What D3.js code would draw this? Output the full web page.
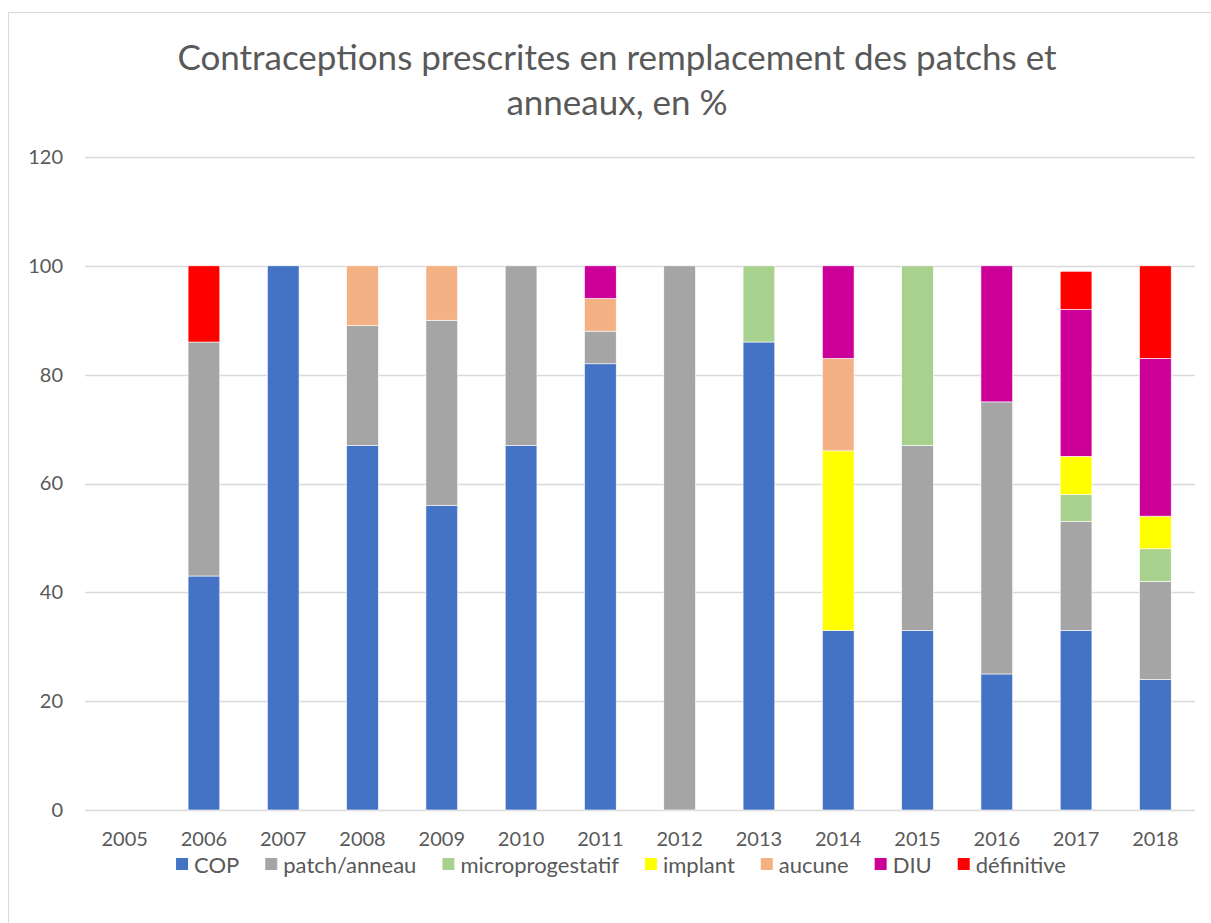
<!DOCTYPE html>
<html>
<head>
<meta charset="utf-8">
<script src="https://cdn.jsdelivr.net/npm/d3@7"></script>
<style>
  body { margin: 0; background: #fff; }
  text { font-family: Lato, "Open Sans", sans-serif; fill: #595959; }
</style>
</head>
<body>
<svg id="chart" width="1211" height="923"></svg>
<script>
var years = ["2005", "2006", "2007", "2008", "2009", "2010", "2011", "2012", "2013", "2014", "2015", "2016", "2017", "2018"];
var seriesNames = ["COP", "patch/anneau", "microprogestatif", "implant", "aucune", "DIU", "définitive"];
var seriesColors = ["#4472c4", "#a5a5a5", "#a9d18e", "#ffff00", "#f4b183", "#cc0099", "#ff0000"];

var cop     = [0, 43, 100, 67, 56, 67, 82, 0, 86, 33, 33, 25, 33, 24];
var patch   = [0, 43, 0, 22, 34, 33, 6, 100, 0, 0, 34, 50, 20, 18];
var micro   = [0, 0, 0, 0, 0, 0, 0, 0, 14, 0, 33, 0, 5, 6];
var implant = [0, 0, 0, 0, 0, 0, 0, 0, 0, 33, 0, 0, 7, 6];
var aucune  = [0, 0, 0, 11, 10, 0, 6, 0, 0, 17, 0, 0, 0, 0];
var diu     = [0, 0, 0, 0, 0, 0, 6, 0, 0, 17, 0, 25, 27, 29];
var definitive = [0, 14, 0, 0, 0, 0, 0, 0, 0, 0, 0, 0, 7, 17];
var yTicks = [0, 20, 40, 60, 80, 100, 120];

var width = 1211, height = 923;
var margin = { left: 85, right: 16, top: 157, bottom: 113 };

var svg = d3.select("#chart");

// chart frame
svg.append("rect")
  .attr("x", 8.5).attr("y", 12.5)
  .attr("width", 1215).attr("height", 930)
  .attr("fill", "none").attr("stroke", "#d9d9d9");

// build rows for the stack
var cols = [cop, patch, micro, implant, aucune, diu, definitive];
var rows = years.map(function (y, i) {
  var r = { year: y };
  seriesNames.forEach(function (s, k) { r[s] = cols[k][i]; });
  return r;
});
var stacked = d3.stack().keys(seriesNames)(rows);

var xScale = d3.scaleBand().domain(years)
  .range([margin.left, width - margin.right])
  .paddingInner(0.6).paddingOuter(0.3);
var yScale = d3.scaleLinear().domain([0, 120]).range([height - margin.bottom, margin.top]);

// gridlines
svg.append("g")
  .selectAll("line")
  .data(yTicks)
  .enter()
  .append("line")
  .attr("x1", margin.left).attr("x2", width - margin.right)
  .attr("y1", (d) => Math.round(yScale(d)) + 0.5)
  .attr("y2", (d) => Math.round(yScale(d)) + 0.5)
  .attr("stroke", "#d9d9d9").attr("stroke-width", 1.5);

// y labels
var yAxis = svg.append("g")
  .attr("transform", `translate(${margin.left - 22},0)`)
  .call(d3.axisLeft(yScale).tickValues(yTicks).tickSize(0).tickPadding(0));
yAxis.select(".domain").remove();
yAxis.selectAll("text")
  .style("font-size", "20px").attr("fill", "#595959")
  .style("font-family", "Lato, sans-serif");

// bars
svg.append("g")
  .selectAll("g")
  .data(stacked)
  .enter()
  .append("g")
  .attr("fill", (d, i) => seriesColors[i])
  .selectAll("rect")
  .data((d) => d)
  .enter()
  .append("rect")
  .attr("x", (d) => xScale(d.data.year))
  .attr("width", xScale.bandwidth())
  .attr("y", (d) => yScale(d[1]))
  .attr("height", (d) => yScale(d[0]) - yScale(d[1]))
  .attr("stroke", "#ffffff")
  .attr("stroke-width", 0.6);

// x labels
var xAxis = svg.append("g")
  .attr("transform", `translate(0,${height - margin.bottom})`)
  .call(d3.axisBottom(xScale).tickSize(0).tickPadding(22));
xAxis.select(".domain").remove();
xAxis.selectAll("text")
  .style("font-size", "20px").attr("fill", "#595959")
  .style("font-family", "Lato, sans-serif");

// title
svg.append("text")
  .attr("x", 617).attr("y", 70)
  .style("text-anchor", "middle")
  .style("font-size", "35px")
  .text("Contraceptions prescrites en remplacement des patchs et");
svg.append("text")
  .attr("x", 617).attr("y", 115)
  .style("text-anchor", "middle")
  .style("font-size", "35px")
  .text("anneaux, en %");

// legend
var legend = svg.append("g").attr("transform", "translate(0,873)");
var items = legend.selectAll("g")
  .data(seriesNames)
  .enter()
  .append("g");
items.append("rect")
  .attr("width", 12).attr("height", 12)
  .attr("y", -15)
  .attr("fill", (d, i) => seriesColors[i]);
items.append("text")
  .attr("x", 18)
  .attr("y", 0)
  .style("font-size", "22px")
  .text((d) => d);

var gap = 26, pos = 0, widths = [];
items.each(function () {
  var w = 18 + this.querySelector("text").getComputedTextLength();
  widths.push(w);
});
var total = d3.sum(widths) + gap * (widths.length - 1);
pos = 621 - total / 2;
items.attr("transform", function (d, i) {
  var p = pos;
  pos += widths[i] + gap;
  return `translate(${p},0)`;
});
</script>
</body>
</html>
